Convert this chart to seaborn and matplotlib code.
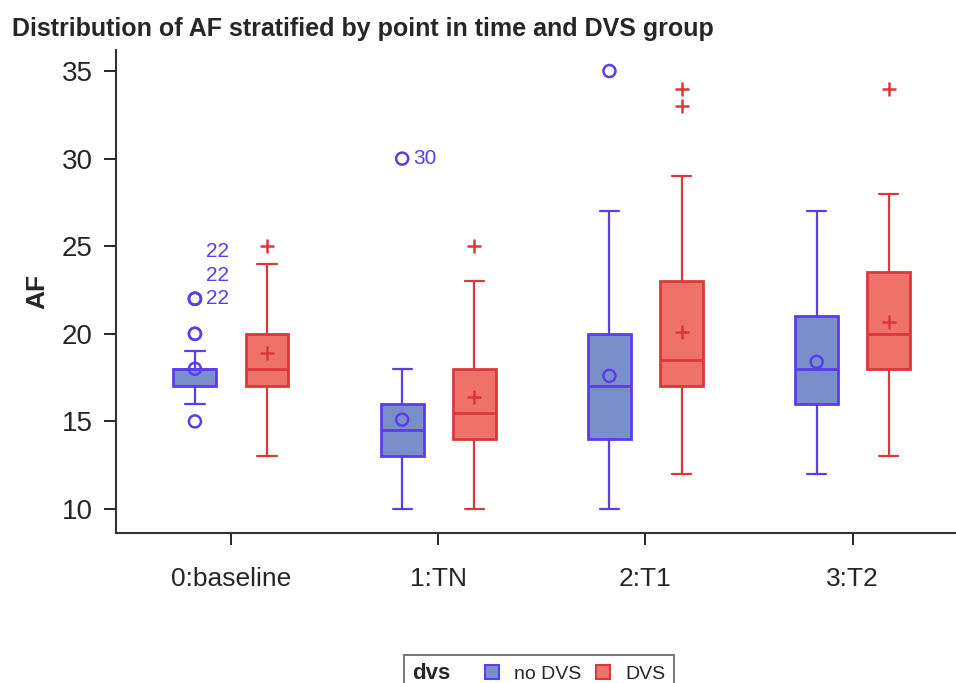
import numpy as np
import pandas as pd
import matplotlib
matplotlib.use('Agg')
import matplotlib.pyplot as plt
from matplotlib.patches import Patch
from matplotlib.offsetbox import HPacker
import seaborn as sns

# data
groups = ['0:baseline', '1:TN', '2:T1', '3:T2']

nodvs_lo = [16, 10, 10, 12]
nodvs_q1 = [17, 13, 14, 16]
nodvs_med = [18, 14.5, 17, 18]
nodvs_q3 = [18, 16, 20, 21]
nodvs_hi = [19, 18, 27, 27]
nodvs_mean = [18, 15.1, 17.6, 18.4]
nodvs_out = [[15, 20, 20, 22, 22, 22], [30], [35], []]

dvs_lo = [13, 10, 12, 13]
dvs_q1 = [17, 14, 17, 18]
dvs_med = [18, 15.5, 18.5, 20]
dvs_q3 = [20, 18, 23, 23.5]
dvs_hi = [24, 23, 29, 28]
dvs_mean = [18.9, 16.4, 20.1, 20.7]
dvs_out = [[25], [25], [33, 34], [34]]

# outlier id labels (group index, value, label)
label_group = [0, 0, 0, 1]
label_value = [22, 22, 22, 30]
label_pos = [22.0, 23.35, 24.7, 30.0]

blue_edge = '#5B3DEB'
blue_fill = '#7A8FCA'
red_edge = '#D9383D'
red_fill = '#EE7268'

sns.set_theme(style='white')
plt.rcParams['font.family'] = ['Liberation Sans', 'DejaVu Sans']

fig = plt.figure(figsize=(9.56, 6.83), dpi=100)
ax = fig.add_axes([0.1213, 0.2196, 0.891, 0.7072])

x = np.arange(len(groups))
off = 0.174
width = 0.207


def make_stats(lo, q1, med, q3, hi, mean):
    return [dict(whislo=a, q1=b, med=c, q3=d, whishi=e, mean=f, fliers=[])
            for a, b, c, d, e, f in zip(lo, q1, med, q3, hi, mean)]


for stats, pos, edge, fill in [
        (make_stats(nodvs_lo, nodvs_q1, nodvs_med, nodvs_q3, nodvs_hi, nodvs_mean), x - off, blue_edge, blue_fill),
        (make_stats(dvs_lo, dvs_q1, dvs_med, dvs_q3, dvs_hi, dvs_mean), x + off, red_edge, red_fill)]:
    ax.bxp(stats, positions=pos, widths=width, patch_artist=True, showfliers=False,
           showmeans=False,
           boxprops=dict(facecolor=fill, edgecolor=edge, linewidth=2),
           medianprops=dict(color=edge, linewidth=2),
           whiskerprops=dict(color=edge, linewidth=1.6),
           capprops=dict(color=edge, linewidth=1.6),
           capwidths=width * 0.45)

# means
sns.scatterplot(x=x - off, y=nodvs_mean, ax=ax, marker='o', s=75,
                facecolor='none', edgecolor=blue_edge, linewidth=1.8, zorder=5)
sns.scatterplot(x=x + off, y=dvs_mean, ax=ax, marker='+', s=90,
                color=red_edge, linewidth=1.8, zorder=5)

# outliers
ox, oy = [], []
for i, vals in enumerate(nodvs_out):
    for v in vals:
        ox.append(x[i] - off)
        oy.append(v)
sns.scatterplot(x=ox, y=oy, ax=ax, marker='o', s=75, facecolor='none',
                edgecolor=blue_edge, linewidth=1.8, zorder=5)

rx, ry = [], []
for i, vals in enumerate(dvs_out):
    for v in vals:
        rx.append(x[i] + off)
        ry.append(v)
sns.scatterplot(x=rx, y=ry, ax=ax, marker='+', s=90, color=red_edge,
                linewidth=1.8, zorder=5)

for g, v, p in zip(label_group, label_value, label_pos):
    ax.text(x[g] - off + 0.055, p, str(v), color=blue_edge, fontsize=15,
            va='center', ha='left')

ax.set_xlim(-0.555, 3.555)
ax.set_ylim(8.63, 36.2)
ax.set_xticks(x)
ax.set_xticklabels(groups, fontsize=19)
ax.set_yticks([10, 15, 20, 25, 30, 35])
ax.tick_params(axis='y', labelsize=20, direction='out', length=8.6, width=1.4, left=True, pad=8)
ax.tick_params(axis='x', direction='out', length=8.6, width=1.4, bottom=True, pad=16)
ax.set_xlabel('')
ax.set_ylabel('AF', fontsize=19, fontweight='bold', labelpad=9)
for s in ['top', 'right']:
    ax.spines[s].set_visible(False)
for s in ['left', 'bottom']:
    ax.spines[s].set_color('#333333')
    ax.spines[s].set_linewidth(1.5)

fig.text(0.013, 0.958, 'Distribution of AF stratified by point in time and DVS group',
         fontsize=18, fontweight='bold', ha='left', va='center',
         family=['Liberation Sans Narrow', 'Liberation Sans', 'DejaVu Sans'])

handles = [Patch(facecolor=blue_fill, edgecolor=blue_edge, linewidth=1.5),
           Patch(facecolor=red_fill, edgecolor=red_edge, linewidth=1.5)]
leg = fig.legend(handles, ['no DVS', 'DVS'], ncol=2, loc='upper left',
                 bbox_to_anchor=(394 / 956, 1 - 645 / 683), frameon=True,
                 fontsize=14, title='dvs',
                 title_fontproperties={'weight': 'bold', 'size': 16},
                 handlelength=0.75, handleheight=0.75,
                 handletextpad=0.75, columnspacing=0.75, borderpad=0.45,
                 fancybox=False, edgecolor='#555555')
leg.get_frame().set_linewidth(1.4)
# put the legend title on the same row as the entries
fs = leg._fontsize
row = HPacker(pad=leg.borderpad * fs, sep=1.75 * fs, align='center',
              children=[leg._legend_title_box, leg._legend_handle_box])
row.set_figure(fig)
row.axes = leg.axes
row.set_offset(leg._findoffset)
leg._legend_box = row

fig.savefig('out.png', dpi=100)
